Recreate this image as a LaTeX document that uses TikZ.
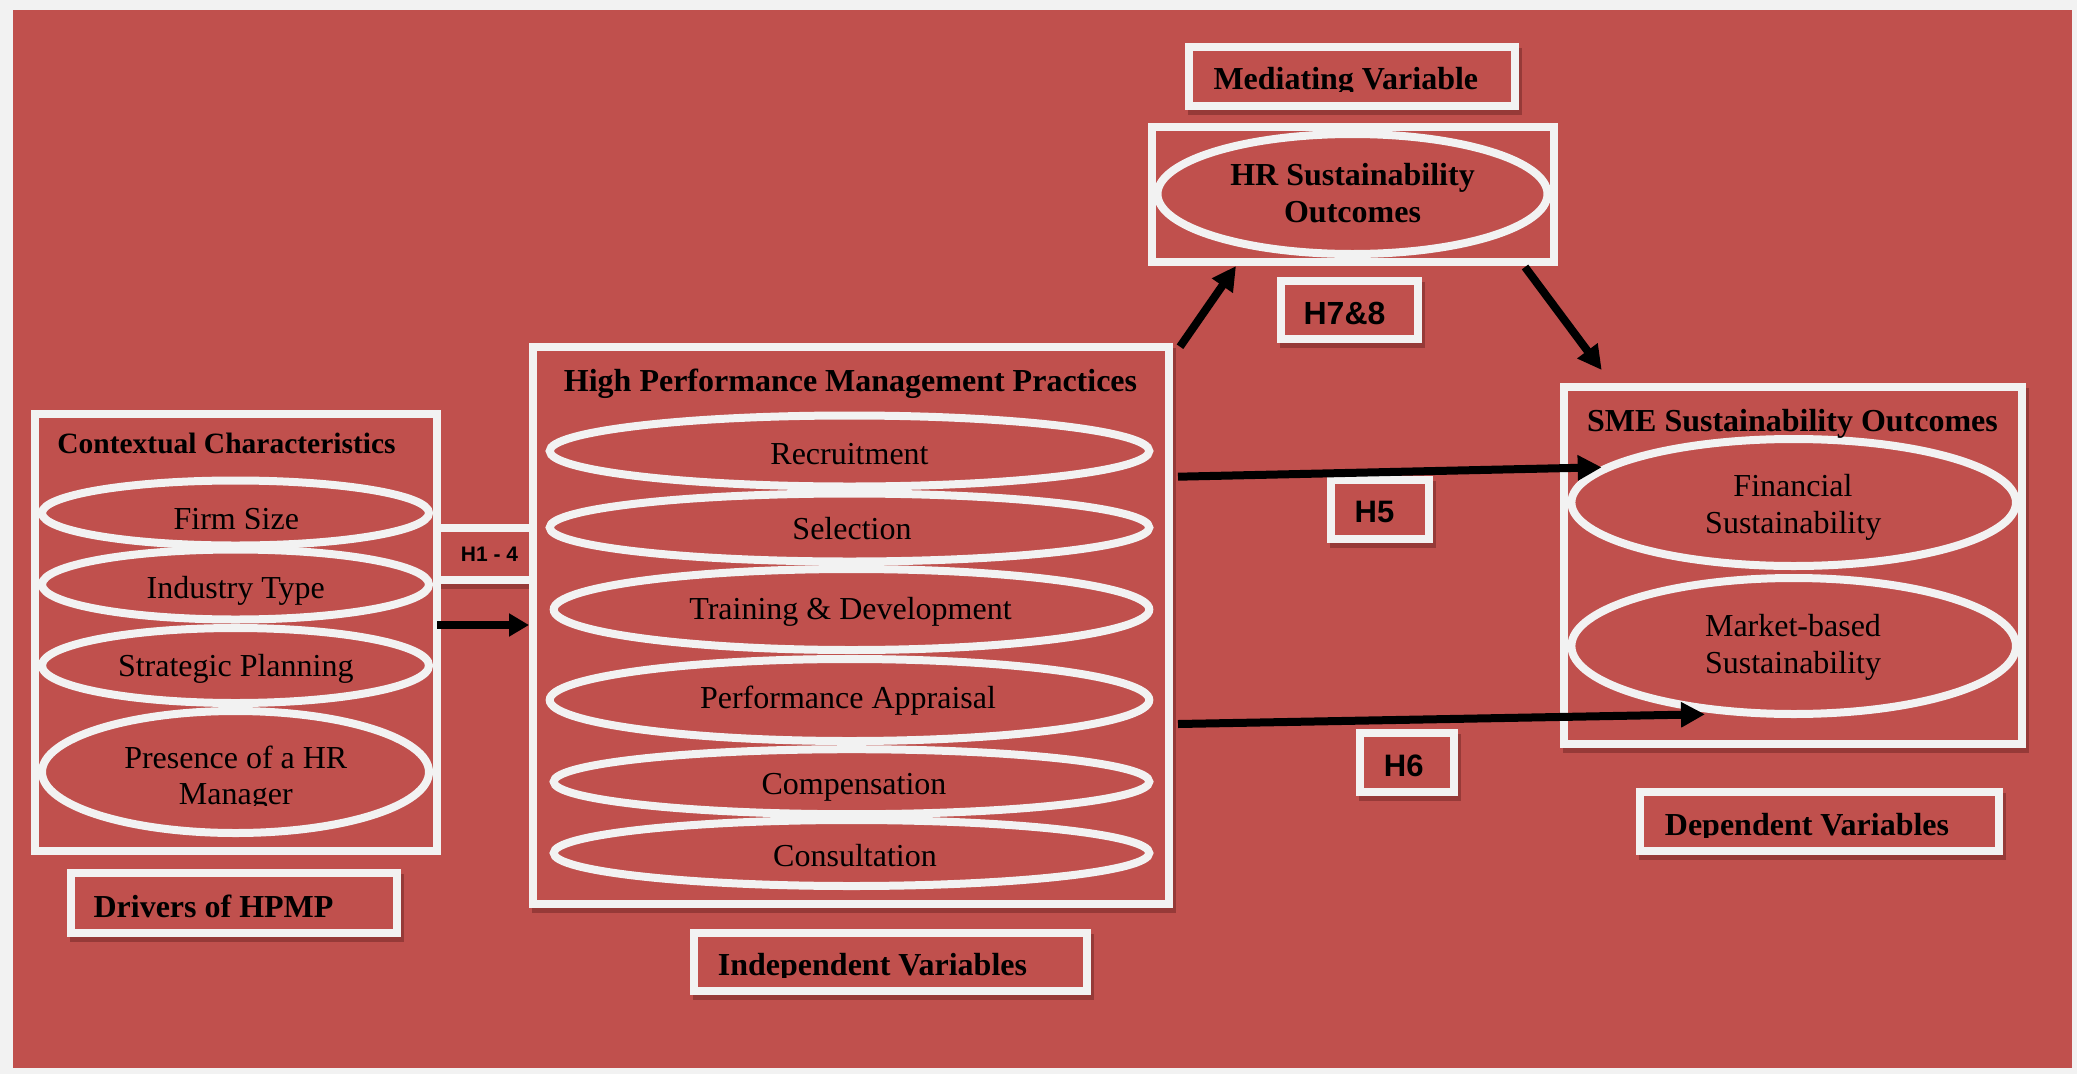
\documentclass[tikz,border=0pt]{standalone}
\usepackage{fontspec}
\setmainfont{Liberation Serif}
\newfontfamily\hsans{Liberation Sans}
\usetikzlibrary{arrows.meta,shapes.geometric,shadows}
\definecolor{bgred}{HTML}{C0504D}
\definecolor{wline}{HTML}{F2F2F2}
\definecolor{shred}{RGB}{150,58,56}
\definecolor{outergrey}{HTML}{F2F2F2}
\begin{document}
\begin{tikzpicture}[x=1pt,y=-1pt,
  wbox/.style={draw=wline, line width=8pt, fill=bgred, rectangle, inner sep=0pt},
  sbox/.style={wbox, drop shadow={shadow xshift=3pt, shadow yshift=-5pt, opacity=1, fill=shred, draw=shred, line width=8pt}},
  oval/.style={draw=wline, line width=8pt, ellipse, inner sep=0pt},
  reg/.style={inner sep=0pt, anchor=base, text=black, font=\fontsize{32}{37}\selectfont},
  bld/.style={inner sep=0pt, anchor=base, text=black, font=\fontsize{32}{37}\selectfont\bfseries},
  bldsmall/.style={inner sep=0pt, anchor=base, text=black, font=\fontsize{29.5}{34}\selectfont\bfseries},
  hlab/.style={inner sep=0pt, anchor=base, text=black, font=\hsans\fontsize{31}{36}\selectfont\bfseries},
  arr/.style={draw=black, line width=8pt, -{Triangle[length=24pt,width=24pt]}},
]
\useasboundingbox (0,0) rectangle (2077,1074);
\fill[outergrey] (0,0) rectangle (2077,1074);
\fill[bgred] (13,10) rectangle (2072,1068);

% boxes
\node[sbox, minimum width=96pt, minimum height=52pt] (h14) at (485,553.5) {};
\node[wbox, minimum width=402pt, minimum height=437.5pt] (ctx) at (236,632.25) {};
\node[sbox, minimum width=326.3pt, minimum height=59.5pt] (drv) at (233.85,902.75) {};
\node[sbox, minimum width=636pt, minimum height=557pt] (hpmp) at (851,625.5) {};
\node[sbox, minimum width=393pt, minimum height=58.5pt] (indep) at (890,961.75) {};
\node[sbox, minimum width=326pt, minimum height=58.7pt] (med) at (1352,76.65) {};
\node[wbox, minimum width=402pt, minimum height=134.7pt] (hrbox) at (1352.7,194.65) {};
\node[sbox, minimum width=137.6pt, minimum height=58.6pt] (h78) at (1349.5,310) {};
\node[sbox, minimum width=98.6pt, minimum height=59.3pt] (h5) at (1380,509.65) {};
\node[sbox, minimum width=93.7pt, minimum height=59pt] (h6) at (1406.85,762.5) {};
\node[sbox, minimum width=458pt, minimum height=357.6pt] (sme) at (1793,565.5) {};
\node[sbox, minimum width=359.3pt, minimum height=58.7pt] (dep) at (1819.65,821.65) {};

% ellipses: contextual characteristics
\node[oval, minimum width=387pt, minimum height=65pt] (eFirm) at (235.5,513) {};
\node[oval, minimum width=387pt, minimum height=70pt] (eInd) at (235.5,584.5) {};
\node[oval, minimum width=387pt, minimum height=75pt] (eStr) at (235.5,665.5) {};
\node[oval, minimum width=387pt, minimum height=122pt] (ePres) at (235.5,772) {};
% ellipses: HPMP
\node[oval, minimum width=599.6pt, minimum height=71pt] (eRec) at (849.5,451) {};
\node[oval, minimum width=599.6pt, minimum height=68pt] (eSel) at (849.5,527.5) {};
\node[oval, minimum width=595.6pt, minimum height=81pt] (eTrain) at (851.5,609.5) {};
\node[oval, minimum width=599.6pt, minimum height=82pt] (ePerf) at (849.5,700) {};
\node[oval, minimum width=595.6pt, minimum height=65pt] (eComp) at (851.5,781.7) {};
\node[oval, minimum width=595.6pt, minimum height=66pt] (eCons) at (851.5,853) {};
% ellipse: HR
\node[oval, minimum width=390pt, minimum height=120pt] (eHR) at (1352.5,194) {};
% ellipses: SME
\node[oval, minimum width=444.6pt, minimum height=127pt] (eFin) at (1793.7,502.5) {};
\node[oval, minimum width=444.6pt, minimum height=136pt] (eMkt) at (1793.7,646) {};

% texts
\node[bldsmall] (tCtx) at (226.5,453.5) {Contextual Characteristics};
\begin{scope}
\clip (40,480) rectangle (430,528.5);
\node[reg] (tFirm) at (236.3,529) {Firm Size};
\end{scope}
\node[reg] (tInd) at (235.8,598) {Industry Type};
\node[reg] (tStr) at (235.8,676.5) {Strategic Planning};
\node[reg] (tPres1) at (235.8,768) {Presence of a HR};
\begin{scope}
\clip (40,775) rectangle (430,805);
\node[reg] (tPres2) at (235.8,804.2) {Manager};
\end{scope}
\node[bld] (tDrv) at (213.5,917.5) {Drivers of HPMP};
\node[inner sep=0pt, anchor=base, text=black, font=\hsans\fontsize{21}{25}\selectfont\bfseries] (tH14) at (489.5,561) {H1 - 4};

\node[bld] (tHpmp) at (850.5,391) {High Performance Management Practices};
\node[reg] (tRec) at (849.5,464.5) {Recruitment};
\node[reg] (tSel) at (852,539) {Selection};
\node[reg] (tTrain) at (850.5,619.5) {Training \& Development};
\node[reg] (tPerf) at (848,708.5) {Performance Appraisal};
\node[reg] (tComp) at (854,794.5) {Compensation};
\node[reg] (tCons) at (855,866.5) {Consultation};
\begin{scope}
\clip (700,940) rectangle (1080,977);
\node[bld] (tIndep) at (872.5,975) {Independent Variables};
\end{scope}

\begin{scope}
\clip (1195,55) rectangle (1510,91);
\node[bld] (tMed) at (1345.8,89.5) {Mediating Variable};
\end{scope}
\node[bld] (tHR1) at (1352.5,185) {HR Sustainability};
\node[bld] (tHR2) at (1352.5,222.3) {Outcomes};
\node[hlab, font=\hsans\fontsize{32}{37}\selectfont\bfseries] (tH78) at (1344.5,324) {H7\&8};
\node[hlab] (tH5) at (1374.5,522.7) {H5};
\node[hlab] (tH6) at (1403.7,776) {H6};

\node[bld] (tSme) at (1792.5,431) {SME Sustainability Outcomes};
\node[reg] (tFin1) at (1793,496) {Financial};
\node[reg] (tFin2) at (1793.2,533.3) {Sustainability};
\node[reg] (tMkt1) at (1793,636) {Market-based};
\node[reg] (tMkt2) at (1793,673.3) {Sustainability};
\begin{scope}
\clip (1645,800) rectangle (1995,837);
\node[bld] (tDep) at (1807,835.5) {Dependent Variables};
\end{scope}

% connector end points
\coordinate (a1s) at (437,625);
\coordinate (a1e) at (529,625);
\coordinate (a2s) at (1180,346.7);
\coordinate (a2e) at (1236,266);
\coordinate (a3s) at (1525,267);
\coordinate (a3e) at (1601.7,370);
\coordinate (a4s) at (1178,476.7);
\coordinate (a4e) at (1601.7,467.3);
\coordinate (a5s) at (1178,724);
\coordinate (a5e) at (1705,714.3);

\draw[draw=black, line width=8pt, -{Triangle[length=20pt,width=22pt]}] (a1s) -- (a1e);
\draw[arr] (a2s) -- (a2e);
\draw[arr] (a3s) -- (a3e);
\draw[arr] (a4s) -- (a4e);
\draw[arr] (a5s) -- (a5e);
\end{tikzpicture}
\end{document}
